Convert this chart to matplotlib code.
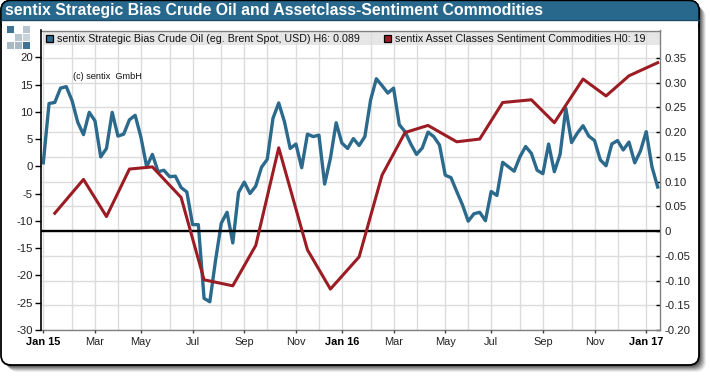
import matplotlib
matplotlib.use("Agg")
import matplotlib.pyplot as plt
from matplotlib.patches import FancyBboxPatch, Rectangle

plt.rcParams["font.family"] = ["Liberation Sans", "DejaVu Sans"]

TITLE = "sentix Strategic Bias Crude Oil and Assetclass-Sentiment Commodities"
BLUE_NAME = "sentix Strategic Bias Crude Oil (eg. Brent Spot, USD) H6: 0.089"
RED_NAME = "sentix Asset Classes Sentiment Commodities H0: 19"

# weekly, right axis
blue_values = [
    0.138, 0.258, 0.260, 0.289, 0.292, 0.264, 0.220, 0.195, 0.240, 0.223,
    0.150, 0.167, 0.240, 0.192, 0.196, 0.225, 0.234, 0.190, 0.130, 0.155,
    0.120, 0.123, 0.110, 0.111, 0.088, 0.079, 0.013, 0.013, -0.136, -0.143,
    -0.059, 0.016, 0.038, -0.024, 0.078, 0.099, 0.076,
    0.091, 0.129, 0.145, 0.228, 0.259, 0.221, 0.167, 0.176, 0.128, 0.196,
    0.191, 0.194, 0.095, 0.147, 0.219, 0.178, 0.167, 0.187, 0.173, 0.191,
    0.265, 0.308, 0.294, 0.279, 0.289, 0.215, 0.201, 0.176, 0.155, 0.168,
    0.200, 0.191, 0.174, 0.113, 0.108, 0.080, 0.053, 0.020, 0.035, 0.038,
    0.021, 0.080, 0.072, 0.139, 0.130, 0.121, 0.150, 0.171, 0.157, 0.123,
    0.116, 0.176, 0.120, 0.155, 0.248, 0.179, 0.198, 0.213, 0.192, 0.183,
    0.144, 0.132, 0.176, 0.183, 0.164, 0.180, 0.138, 0.162, 0.201, 0.130,
    0.089,
]

# monthly, left axis, placed on the week index
red_weeks = [2, 7, 11, 15, 19, 24, 28, 33, 37, 41, 46, 50, 55, 59, 63, 67, 72,
             76, 80, 85, 89, 94, 98, 102, 107]
red_values = [-8.6, -2.4, -9.2, -0.5, -0.1, -5.7, -20.8, -21.9, -14.5, 3.4,
              -15.3, -22.5, -16.6, -1.6, 6.2, 7.5, 4.5, 5.0, 11.7, 12.2, 8.0,
              16.0, 12.9, 16.6, 19.0]

grid_weeks = [0, 5, 9, 13, 17, 22, 26, 31, 35, 39, 44, 48, 52, 57, 61, 65, 70,
              74, 78, 83, 87, 92, 96, 100, 105]
label_weeks = [0, 9, 17, 26, 35, 44, 52, 61, 70, 78, 87, 96, 105]
month_labels = ["Jan 15", "Mar", "May", "Jul", "Sep", "Nov", "Jan 16", "Mar",
                "May", "Jul", "Sep", "Nov", "Jan 17"]
left_ticks = [-30, -25, -20, -15, -10, -5, 0, 5, 10, 15, 20]
right_ticks = [-0.20, -0.15, -0.10, -0.05, 0, 0.05, 0.10, 0.15, 0.20, 0.25, 0.30, 0.35]

W, H = 710, 376
HEADER = "#28688c"
C_BLUE = "#2b6a8c"
C_RED = "#9c1c24"

fig = plt.figure(figsize=(W / 100, H / 100), dpi=100, facecolor="white")

# frame layer in pixel coordinates
bg = fig.add_axes([0, 0, 1, 1], zorder=0)
bg.set_xlim(0, W)
bg.set_ylim(H, 0)
bg.axis("off")
for off, alpha in [(7, 0.08), (6, 0.12), (5, 0.16), (4, 0.20), (3, 0.26), (2, 0.32), (1, 0.4)]:
    bg.add_patch(FancyBboxPatch((1 + off, 1 + off), 698, 364, boxstyle="round,pad=0,rounding_size=10",
                                facecolor="#303030", edgecolor="none", alpha=alpha))
bg.add_patch(FancyBboxPatch((1, 0.5), 698, 364.5, boxstyle="round,pad=0,rounding_size=10",
                            facecolor="white", edgecolor="black", linewidth=1.3))
bg.add_patch(FancyBboxPatch((1, 0.5), 698, 32, boxstyle="round,pad=0,rounding_size=10",
                            facecolor=HEADER, edgecolor="black", linewidth=1.0))
bg.add_patch(Rectangle((1.6, 20), 696.8, 15, facecolor="white", edgecolor="none"))
bg.plot([1, 699], [20, 20], color="#1c4a66", linewidth=1.0)
bg.text(5, 10.5, TITLE, color="white", fontsize=11.4, fontweight="bold", va="center", ha="left")

# logo squares
for col, row, color in [(0, 0, "#3f7396"), (2, 0, "#b9c6cf"), (1, 1, "#b9c6cf"), (2, 1, "#c9d3da"),
                        (0, 2, "#a9b9c4"), (1, 2, "#a9b9c4"), (2, 2, "#3f7396")]:
    bg.add_patch(Rectangle((7 + col * 8, 26 + row * 8), 6.7, 6.7, facecolor=color, edgecolor="none"))

# legend band sits under the grid
bg.add_patch(Rectangle((43, 32), 617, 12.5, facecolor="#e6e6e6", edgecolor="none"))

# axes box: x 41..660, y 30.5..330 px
ax = fig.add_axes([41 / W, 1 - 330 / H, 619 / W, 299.5 / H], zorder=2)
ax.patch.set_alpha(0)
ax2 = ax.twinx()
ax.set_zorder(3)
ax2.set_zorder(2)
ax2.patch.set_alpha(0)

ax.set_xlim(-0.4, 107.4)
ax.set_ylim(-30, 24.9)
ax2.set_ylim(-0.20, 0.4055)

ax2.set_yticks(right_ticks)
ax2.set_yticklabels(["-0.20", "-0.15", "-0.10", "-0.05", "0", "0.05", "0.10", "0.15",
                     "0.20", "0.25", "0.30", "0.35"], fontsize=8.2, color="#222222")
ax.set_yticks(left_ticks)
ax.set_yticklabels([str(v) for v in left_ticks], fontsize=8.2, color="#222222")
ax.set_xticks(grid_weeks, minor=True)
ax.set_xticks(label_weeks)
labels = ax.set_xticklabels(month_labels, fontsize=7.9, color="#222222")
for lab in labels:
    if lab.get_text().startswith("Jan"):
        lab.set_fontweight("bold")
        lab.set_color("black")

ax2.grid(axis="y", color="#dcdcdc", linewidth=1.0)
ax2.set_axisbelow(True)
for week in grid_weeks:
    ax2.axvline(week, color="#dcdcdc", linewidth=1.0, zorder=0.5)

ax.tick_params(axis="y", length=4.5, width=1.0, color="black", pad=1.5)
ax.tick_params(axis="x", which="major", length=2, width=1.0, color="#444444", pad=3)
ax.tick_params(axis="x", which="minor", length=0)
ax2.tick_params(axis="y", direction="in", length=3, width=1.0, color="black", pad=3)

for name, spine in ax.spines.items():
    spine.set_visible(name == "left")
ax.spines["left"].set_linewidth(1.2)
ax.spines["left"].set_color("black")
for name, spine in ax2.spines.items():
    spine.set_visible(name != "left")
    spine.set_color("#808080")
    spine.set_linewidth(1.0)

ax2.axhline(0, color="black", linewidth=1.7, zorder=4)
ax2.plot(range(len(blue_values)), blue_values, color=C_BLUE, linewidth=2.4, zorder=3)
ax.plot(red_weeks, red_values, color=C_RED, linewidth=2.2, zorder=5)

ax.text(0.0515, 0.845, "(c) sentix  GmbH", transform=ax.transAxes, fontsize=6.6, color="#111111",
        ha="left", va="center")

# legend keys and names
top = fig.add_axes([0, 0, 1, 1], zorder=5)
top.set_xlim(0, W)
top.set_ylim(H, 0)
top.axis("off")
top.add_patch(Rectangle((45.5, 34.5), 7.5, 7.5, facecolor=C_BLUE, edgecolor="black", linewidth=0.9))
top.text(57, 38.5, BLUE_NAME, fontsize=7.67, va="center", ha="left", color="#111111")
top.add_patch(Rectangle((383.5, 34.5), 7.5, 7.5, facecolor=C_RED, edgecolor="black", linewidth=0.9))
top.text(395, 38.5, RED_NAME, fontsize=7.65, va="center", ha="left", color="#111111")

fig.savefig("out.png", dpi=100)
